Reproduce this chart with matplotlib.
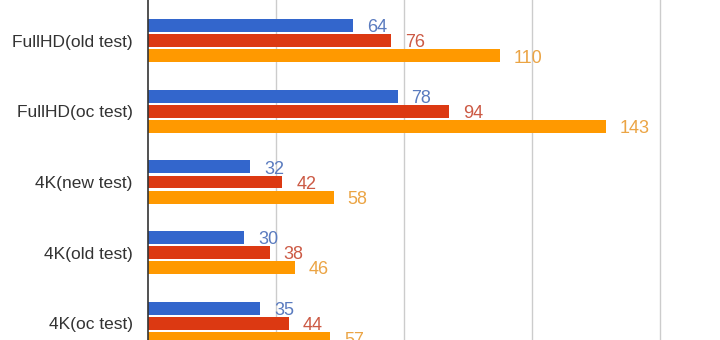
import numpy as np
import matplotlib.pyplot as plt

plt.rcParams['font.family'] = ['Liberation Sans', 'DejaVu Sans']

# resultados por prueba
pruebas = ['FullHD(old test)', 'FullHD(oc test)', '4K(new test)', '4K(old test)', '4K(oc test)']
serie_azul = [64, 78, 32, 30, 35]
serie_roja = [76, 94, 42, 38, 44]
serie_naranja = [110, 143, 58, 46, 57]

series = [serie_azul, serie_roja, serie_naranja]
colores = ['#3366cc', '#dc3912', '#ff9900']
colores_txt = ['#5a7bbf', '#cc5a45', '#eba444']

fig = plt.figure(figsize=(7.2, 3.4), dpi=100)
ax = fig.add_axes([148 / 720, 0, 1 - 148 / 720, 1])

y = np.arange(len(pruebas))
paso = 0.213
alto = 0.184
for i, (vals, c, ct) in enumerate(zip(series, colores, colores_txt)):
    pos = y + (i - 1) * paso
    ax.barh(pos, vals, height=alto, color=c, zorder=3)
    for p, v in zip(pos, vals):
        ax.annotate(str(v), (v, p), xytext=(10, -1.5), textcoords='offset points',
                    va='center', ha='left', color=ct, fontsize=13)

ax.set_xlim(0, 178.75)
ax.set_ylim(4.24, -0.58)
ax.set_xticks([40, 80, 120, 160])
ax.grid(axis='x', color='#cccccc', linewidth=1, zorder=0)
ax.tick_params(axis='x', length=0, labelbottom=False)
ax.tick_params(axis='y', length=0, pad=11, labelsize=12.5, labelcolor='#333333')
ax.set_yticks(y)
ax.set_yticklabels(pruebas)

for lado in ['top', 'right', 'bottom']:
    ax.spines[lado].set_visible(False)
ax.spines['left'].set_color('#333333')
ax.spines['left'].set_linewidth(1.2)
ax.spines['left'].set_zorder(4)

fig.savefig('out.png', dpi=100)
